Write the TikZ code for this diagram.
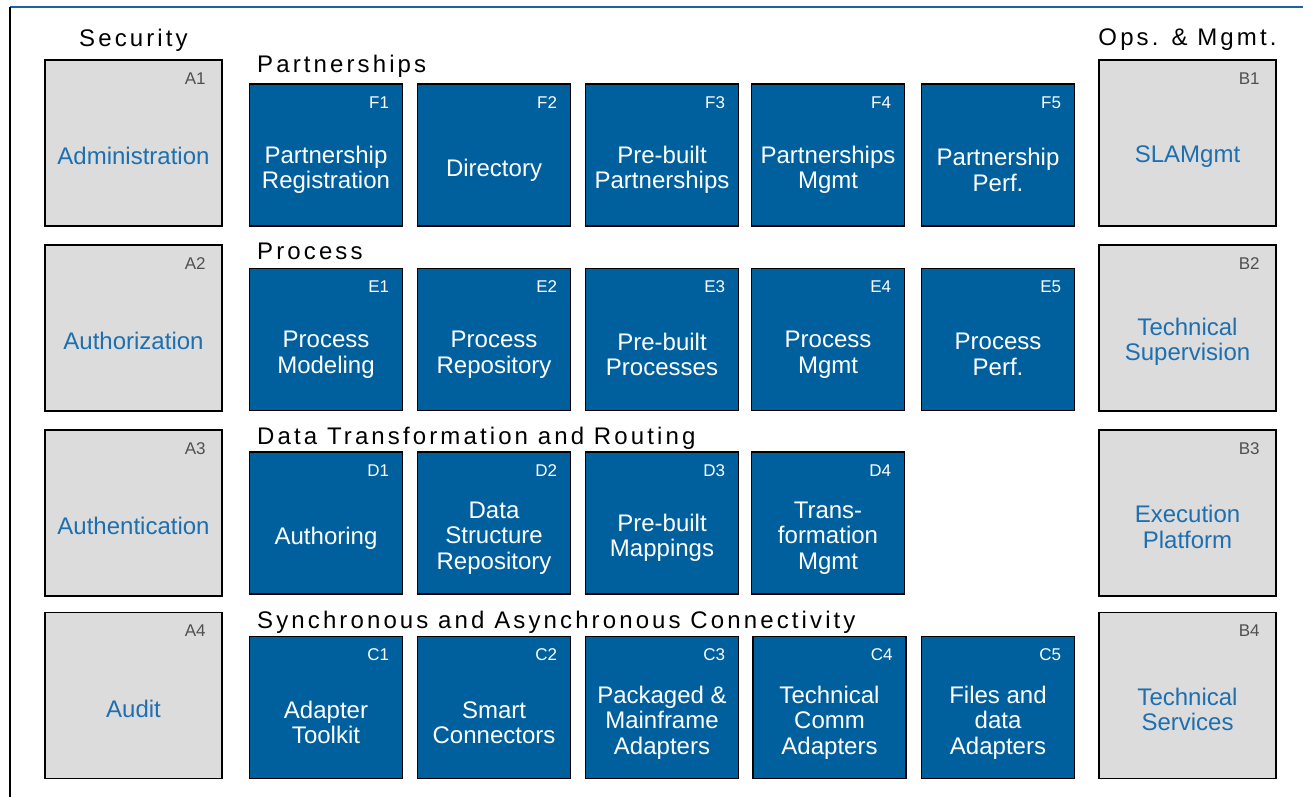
\documentclass[tikz,border=0pt]{standalone}
\usepackage{fontspec}
\setmainfont{Liberation Sans}
\newfontfamily\headfont{Liberation Sans}[LetterSpace=13]
\usetikzlibrary{positioning}
\definecolor{cellblue}{HTML}{00609E}
\definecolor{sidegrey}{HTML}{DCDCDC}
\definecolor{sidetext}{HTML}{1D6FAF}
\definecolor{tagtext}{HTML}{505050}
\definecolor{rulecol}{HTML}{1565A5}

\begin{document}
\begin{tikzpicture}[x=1pt,y=-1pt,
  cell/.style={draw=black,line width=1.5pt,fill=cellblue,minimum width=153pt,minimum height=142pt,inner sep=0pt},
  side/.style={draw=black,line width=1.5pt,fill=sidegrey,minimum width=177pt,minimum height=166pt,inner sep=0pt},
  celltxt/.style={text=white,align=center,inner sep=0pt,font=\fontsize{24}{25.5}\selectfont},
  sidetxt/.style={text=sidetext,align=center,inner sep=0pt,font=\fontsize{24}{25.5}\selectfont},
  tag/.style={anchor=east,inner sep=0pt,font=\fontsize{17}{17}\selectfont},
  head/.style={inner sep=0pt,font=\headfont\fontsize{24}{24}\selectfont}
]
\useasboundingbox (0,0) rectangle (1303,797);
\fill[white] (0,0) rectangle (1303,797);

% frame
\coordinate (tl) at (10,7);
\coordinate (tr) at (1303,7);
\coordinate (bl) at (10,797);
\draw[rulecol,line width=2pt] (tl) -- (tr);
\draw[black,line width=2pt] (tl) -- (bl);

% column titles
\node[head,anchor=base] (sec) at (133.5,47) {Security};
\node[head,anchor=base] (ops) at (1187.5,46) {Ops. \& Mgmt.};

% security column
\foreach \i/\cy/\txt in {1/143/Administration,2/328/Authorization,3/513/Authentication,4/695.5/Audit}{
  \node[side] (a\i) at (133.5,\cy) {};
  \node[tag,text=tagtext] at ([xshift=-17pt,yshift=-19pt]a\i.north east) {A\i};
  \node[sidetxt] at ([yshift=-13pt]a\i.center) {\txt};}

% operations column
\foreach \i/\cy/\txt in {1/143/SLAMgmt,2/328/{Technical\\Supervision},3/513/{Execution\\Platform},4/695.5/{Technical\\Services}}{
  \node[side] (b\i) at (1187.5,\cy) {};
  \node[tag,text=tagtext] at ([xshift=-17pt,yshift=-19pt]b\i.north east) {B\i};
  \node[sidetxt] at ([yshift=-14pt]b\i.center) {\txt};}

% layers
\node[head,anchor=base west] (hf) at (257,73) {Partnerships};
\foreach \i/\cx/\txt in {1/326/{Partnership\\Registration},2/494/Directory,3/662/{Pre-built\\Partnerships},4/828/{Partnerships\\Mgmt},5/998/{Partnership\\Perf.}}{
  \node[cell] (f\i) at (\cx,155) {};
  \node[tag,text=white] at ([xshift=-14pt,yshift=-19pt]f\i.north east) {F\i};
  \node[celltxt] at ([yshift=-15pt]f\i.center) {\txt};}

\node[head,anchor=base west] (he) at (257,259) {Process};
\foreach \i/\cx/\txt in {1/326/{Process\\Modeling},2/494/{Process\\Repository},3/662/{Pre-built\\Processes},4/828/{Process\\Mgmt},5/998/{Process\\Perf.}}{
  \node[cell] (e\i) at (\cx,339.5) {};
  \node[tag,text=white] at ([xshift=-14pt,yshift=-19pt]e\i.north east) {E\i};
  \node[celltxt] at ([yshift=-15pt]e\i.center) {\txt};}

\node[head,anchor=base west] (hd) at (257,444) {Data Transformation and Routing};
\foreach \i/\cx/\txt in {1/326/Authoring,2/494/{Data\\Structure\\Repository},3/662/{Pre-built\\Mappings},4/828/{Trans-\\formation\\Mgmt}}{
  \node[cell] (d\i) at (\cx,523) {};
  \node[tag,text=white] at ([xshift=-14pt,yshift=-19pt]d\i.north east) {D\i};
  \node[celltxt] at ([yshift=-15pt]d\i.center) {\txt};}

\node[head,anchor=base west] (hc) at (257,628) {Synchronous and Asynchronous Connectivity};
\foreach \i/\cx/\txt in {1/326/{Adapter\\Toolkit},2/494/{Smart\\Connectors},3/662/{Packaged \&\\Mainframe\\Adapters},4/829.5/{Technical\\Comm\\Adapters},5/998/{Files and\\data\\Adapters}}{
  \node[cell] (c\i) at (\cx,707.5) {};
  \node[tag,text=white] at ([xshift=-14pt,yshift=-19pt]c\i.north east) {C\i};
  \node[celltxt] at ([yshift=-15pt]c\i.center) {\txt};}
\end{tikzpicture}
\end{document}
